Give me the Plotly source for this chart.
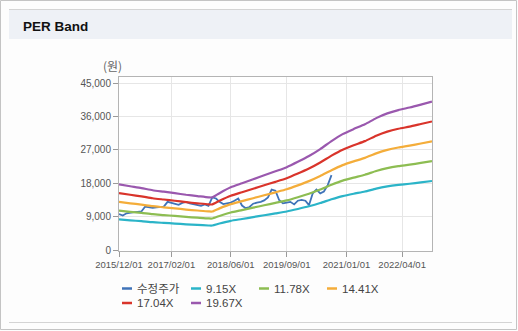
import plotly.graph_objects as go

# ---------------- data ----------------
price_dates = [
    "2015-12-01", "2016-01-01", "2016-02-01", "2016-03-01", "2016-04-01", "2016-05-01",
    "2016-06-01", "2016-07-01", "2016-08-01", "2016-09-01", "2016-10-01", "2016-11-01",
    "2016-12-01", "2017-01-01", "2017-02-01", "2017-03-01", "2017-04-01", "2017-05-01",
    "2017-06-01", "2017-07-01", "2017-08-01", "2017-09-01", "2017-10-01", "2017-11-01",
    "2017-12-01", "2018-01-01", "2018-02-01", "2018-03-01", "2018-04-01", "2018-05-01",
    "2018-06-01", "2018-07-01", "2018-08-01", "2018-09-01", "2018-10-01", "2018-11-01",
    "2018-12-01", "2019-01-01", "2019-02-01", "2019-03-01", "2019-04-01", "2019-05-01",
    "2019-06-01", "2019-07-01", "2019-08-01", "2019-09-01", "2019-10-01", "2019-11-01",
    "2019-12-01", "2020-01-01", "2020-02-01", "2020-03-01", "2020-04-01", "2020-05-01",
    "2020-06-01", "2020-07-01", "2020-08-01", "2020-09-01",
]
price = [
    9700, 9300, 9900, 10100, 10200, 10300,
    10400, 11700, 11500, 11400, 11500, 11600,
    11700, 13000, 12700, 12500, 12200, 12700,
    13000, 12600, 12400, 12100, 11900, 12300,
    11900, 14200, 13900, 13000, 12400, 12600,
    12800, 13300, 13900, 12000, 11300, 11600,
    12500, 12800, 13000, 13400, 14200, 16300,
    16000, 13500, 12600, 12800, 13000, 12300,
    13300, 13500, 13300, 12100, 15300, 16300,
    15300, 15800, 17500, 20200,
]

band_dates = [
    "2015-12-01", "2016-03-01", "2016-06-01", "2016-09-01", "2016-12-01",
    "2017-03-01", "2017-06-01", "2017-09-01", "2017-12-01", "2018-01-01",
    "2018-03-01", "2018-06-01", "2018-09-01", "2018-12-01", "2019-03-01",
    "2019-06-01", "2019-09-01", "2019-12-01", "2020-03-01", "2020-06-01",
    "2020-09-01", "2020-12-01", "2021-03-01", "2021-06-01", "2021-09-01",
    "2021-12-01", "2022-03-01", "2022-06-01", "2022-09-01", "2022-12-01",
]
band_915 = [
    8240, 8010, 7780, 7500, 7320, 7140, 6940, 6770, 6620, 6610,
    7140, 7870, 8370, 8880, 9380, 9880, 10400, 11070, 11800, 12670,
    13680, 14550, 15190, 15780, 16560, 17160, 17570, 17890, 18250, 18630,
]
band_1178 = [
    10610, 10310, 10010, 9660, 9420, 9190, 8930, 8720, 8520, 8510,
    9190, 10130, 10780, 11430, 12070, 12720, 13390, 14250, 15200, 16320,
    17610, 18730, 19550, 20320, 21320, 22090, 22620, 23030, 23500, 23980,
]
band_1441 = [
    12980, 12610, 12250, 11820, 11530, 11240, 10920, 10660, 10420, 10400,
    11240, 12390, 13190, 13980, 14770, 15560, 16380, 17440, 18590, 19960,
    21540, 22910, 23920, 24860, 26080, 27020, 27670, 28170, 28750, 29340,
]
band_1704 = [
    15350, 14910, 14480, 13970, 13630, 13290, 12920, 12610, 12320, 12300,
    13290, 14650, 15590, 16530, 17470, 18400, 19370, 20620, 21980, 23600,
    25470, 27090, 28290, 29390, 30840, 31950, 32720, 33310, 34000, 34690,
]
band_1967 = [
    17720, 17210, 16720, 16130, 15740, 15340, 14910, 14560, 14220, 14200,
    15340, 16920, 18000, 19080, 20160, 21240, 22360, 23800, 25370, 27240,
    29410, 31280, 32650, 33930, 35600, 36880, 37770, 38460, 39240, 40050,
]

series_names = ["수정주가", "9.15X", "11.78X", "14.41X", "17.04X", "19.67X"]
x_tickvals = ["2015-12-01", "2017-02-01", "2018-06-01", "2019-09-01", "2021-01-01", "2022-04-01"]
x_ticktext = ["2015/12/01", "2017/02/01", "2018/06/01", "2019/09/01", "2021/01/01", "2022/04/01"]
y_tickvals = [0, 9000, 18000, 27000, 36000, 45000]
y_ticktext = ["0", "9,000", "18,000", "27,000", "36,000", "45,000"]

# ---------------- styling ----------------
colors = ["#3f73b8", "#2bb4c8", "#8dbd52", "#f4ad3a", "#d9342b", "#9a58ae"]
FONT = "Liberation Sans, Arial, sans-serif"
WIDTH, HEIGHT = 518, 331
L, R, T, B = 119, 86, 77, 80
PW, PH = WIDTH - L - R, HEIGHT - T - B


def fx(px):
    return (px - L) / PW


def fy(py):
    return 1 - (py - T) / PH


fig = go.Figure()

all_y = [price, band_915, band_1178, band_1441, band_1704, band_1967]
all_x = [price_dates] + [band_dates] * 5
for name, xs, ys, c in zip(series_names, all_x, all_y, colors):
    is_price = name == "수정주가"
    fig.add_trace(go.Scatter(
        x=xs, y=ys, name=name, mode="lines",
        line=dict(color=c, width=1.8 if is_price else 2.2,
                  shape="linear" if is_price else "spline",
                  smoothing=0.6),
        showlegend=False, hoverinfo="skip",
    ))

shapes = []
# outer frame
shapes.append(dict(type="rect", xref="paper", yref="paper",
                   x0=fx(0.5), x1=fx(516.5), y0=fy(0.5), y1=fy(329.5),
                   line=dict(color="#c4c4c4", width=1), fillcolor="rgba(0,0,0,0)", layer="below"))
# header band
shapes.append(dict(type="rect", xref="paper", yref="paper",
                   x0=fx(9), x1=fx(512), y0=fy(9.5), y1=fy(39),
                   line=dict(width=0), fillcolor="#eef1f6", layer="below"))
shapes.append(dict(type="line", xref="paper", yref="paper",
                   x0=fx(9), x1=fx(512), y0=fy(9.5), y1=fy(9.5),
                   line=dict(color="#d4d4d4", width=1), layer="below"))
# bottom separator
shapes.append(dict(type="line", xref="paper", yref="paper",
                   x0=fx(9), x1=fx(512), y0=fy(322.5), y1=fy(322.5),
                   line=dict(color="#d4d4d4", width=1), layer="below"))

annotations = [
    dict(text="<b>PER Band</b>", xref="paper", yref="paper", x=fx(21), y=fy(26.5),
         xanchor="left", yanchor="middle", showarrow=False,
         font=dict(family=FONT, size=13.5, color="#111111")),
    dict(text="(원)", xref="paper", yref="paper", x=fx(112), y=fy(66),
         xanchor="center", yanchor="middle", showarrow=False,
         font=dict(family="Noto Sans CJK KR, sans-serif", size=12, color="#666666")),
]

# manual legend
leg_pos = [(122, 288.5), (191, 288.5), (259, 288.5), (327, 288.5), (122, 303), (191, 303)]
for (lx, ly), name, c in zip(leg_pos, series_names, colors):
    shapes.append(dict(type="line", xref="paper", yref="paper",
                       x0=fx(lx), x1=fx(lx + 10), y0=fy(ly), y1=fy(ly),
                       line=dict(color=c, width=2.5)))
    annotations.append(dict(text=name, xref="paper", yref="paper", x=fx(lx + 13), y=fy(ly),
                            xanchor="left", yanchor="middle", showarrow=False,
                            font=dict(family="Liberation Sans, Noto Sans CJK KR, sans-serif",
                                      size=11.5, color="#444444")))

fig.update_layout(
    width=WIDTH, height=HEIGHT,
    margin=dict(l=L, r=R, t=T, b=B, pad=0),
    paper_bgcolor="#fdfdfd", plot_bgcolor="#ffffff",
    shapes=shapes, annotations=annotations,
    showlegend=False,
    xaxis=dict(
        type="date", range=["2015-12-01", "2022-12-01"],
        tickvals=x_tickvals, ticktext=x_ticktext,
        showgrid=True, gridcolor="#e6e6e6", gridwidth=1,
        showline=True, linecolor="#b4b4b4", linewidth=1, mirror=True,
        ticks="outside", ticklen=5, tickcolor="#9a9a9a",
        tickfont=dict(family=FONT, size=9.5, color="#555555"),
        zeroline=False,
    ),
    yaxis=dict(
        range=[-270, 46700],
        tickvals=y_tickvals, ticktext=y_ticktext,
        showgrid=True, gridcolor="#e6e6e6", gridwidth=1,
        showline=True, linecolor="#b4b4b4", linewidth=1, mirror=True,
        ticks="outside", ticklen=5, tickcolor="#9a9a9a",
        tickfont=dict(family=FONT, size=10, color="#555555"),
        zeroline=False,
    ),
)

fig.write_html("out.html")
